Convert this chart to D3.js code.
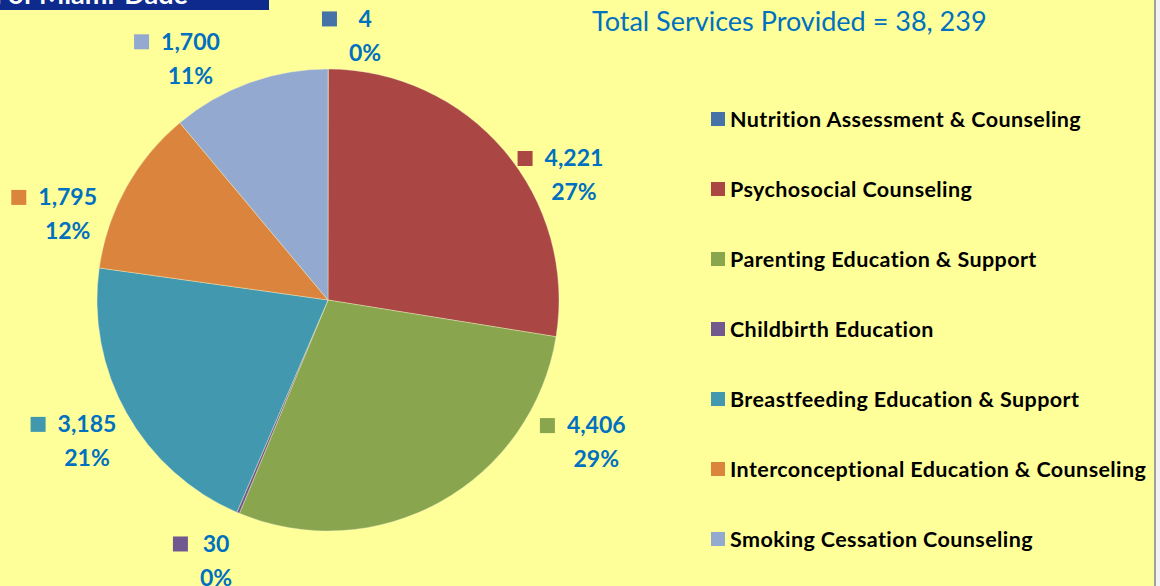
<!DOCTYPE html>
<html>
<head>
<meta charset="utf-8">
<script src="https://cdn.jsdelivr.net/npm/d3@7"></script>
<style>
  body { margin: 0; background: #f2f2f2; }
  svg { display: block; }
</style>
</head>
<body>
<div id="chart"></div>
<script>
// chart data
var categories = [
  "Nutrition Assessment & Counseling",
  "Psychosocial Counseling",
  "Parenting Education & Support",
  "Childbirth Education",
  "Breastfeeding Education & Support",
  "Interconceptional Education & Counseling",
  "Smoking Cessation Counseling"
];
var values = [4, 4221, 4406, 30, 3185, 1795, 1700];
var percentLabels = ["0%", "27%", "29%", "0%", "21%", "12%", "11%"];
var colors = ["#4572A7", "#AA4643", "#89A54E", "#71588F", "#4198AF", "#DB843D", "#93A9CF"];
var titleText = "Total Services Provided = 38, 239";
var bannerText = "Healthy Start Coalition of Miami-Dade";

// label placement around the pie (angle in degrees from top, distance from center)
var labelLayout = [[7.5, 284], [60, 284], [115, 296], [204.7, 268], [242.8, 271], [291.6, 280], [332, 293]];

var width = 1160, height = 586;
var cx = 328, cy = 300, radius = 231;
var labelBlue = "#0070C0";

var svg = d3.select("#chart").append("svg")
  .attr("width", width)
  .attr("height", height);

// background panel
svg.append("rect")
  .attr("x", 0).attr("y", 0)
  .attr("width", 1154).attr("height", height)
  .attr("fill", "#FFFF99");
svg.append("line")
  .attr("x1", 1155).attr("x2", 1155)
  .attr("y1", 0).attr("y2", height)
  .attr("stroke", "#a0a0a0").attr("stroke-width", 2);

// cut-off banner at top left
svg.append("rect")
  .attr("x", 0).attr("y", 0)
  .attr("width", 269).attr("height", 10)
  .attr("fill", "#0E2A8C");
svg.append("text")
  .attr("x", 188).attr("y", 4)
  .attr("text-anchor", "end")
  .attr("font-family", "Lato, sans-serif")
  .attr("font-weight", "bold")
  .attr("font-size", 27)
  .attr("fill", "#ffffff")
  .text(bannerText);

// title
svg.append("text")
  .attr("x", 592).attr("y", 31)
  .attr("font-family", "Lato, sans-serif")
  .attr("font-size", 27)
  .attr("fill", labelBlue)
  .text(titleText);

var data = categories.map(function(c, i) {
  return { name: c, value: values[i], color: colors[i], pct: percentLabels[i] };
});

var pie = d3.pie().sort(null).value(function(d) { return d.value; });
var arc = d3.arc().innerRadius(0).outerRadius(radius);
var arcs = pie(data);

var g = svg.append("g").attr("transform", "translate(" + cx + "," + cy + ")");

g.selectAll(".slice")
  .data(arcs)
  .enter().append("path")
  .attr("class", "slice")
  .attr("d", arc)
  .attr("fill", function(d) { return d.data.color; })
  .attr("stroke", "#f2f2d0")
  .attr("stroke-width", 0.4);

// data labels
var fmt = d3.format(",");
var labels = g.selectAll(".label")
  .data(arcs)
  .enter().append("g")
  .attr("class", "label")
  .attr("transform", function(d, i) {
    var a = labelLayout[i][0] * Math.PI / 180, r = labelLayout[i][1];
    return "translate(" + (Math.sin(a) * r) + "," + (-Math.cos(a) * r) + ")";
  });

labels.each(function(d) {
  var lg = d3.select(this);
  var vt = lg.append("text")
    .attr("text-anchor", "middle")
    .attr("dy", "0.36em")
    .attr("font-family", "Lato, sans-serif")
    .attr("font-weight", "bold")
    .attr("font-size", 23)
    .attr("fill", labelBlue)
    .text(fmt(d.data.value));
  var pt = lg.append("text")
    .attr("text-anchor", "middle")
    .attr("y", 34)
    .attr("dy", "0.36em")
    .attr("font-family", "Lato, sans-serif")
    .attr("font-weight", "bold")
    .attr("font-size", 23)
    .attr("fill", labelBlue)
    .text(d.data.pct);
  // marker sits left of the wider of the two lines
  var w = Math.max(vt.node().getComputedTextLength(), pt.node().getComputedTextLength());
  lg.append("rect")
    .attr("x", -w / 2 - 12 - 15)
    .attr("y", -7)
    .attr("width", 15).attr("height", 15)
    .attr("fill", d.data.color);
});

// legend
var legendY = d3.scalePoint().domain(categories).range([119, 539]);
var legend = svg.selectAll(".legend")
  .data(data)
  .enter().append("g")
  .attr("class", "legend")
  .attr("transform", function(d) { return "translate(711," + legendY(d.name) + ")"; });

legend.append("rect")
  .attr("x", 0).attr("y", -7)
  .attr("width", 14).attr("height", 14)
  .attr("fill", function(d) { return d.color; });

legend.append("text")
  .attr("x", 19)
  .attr("dy", "0.36em")
  .attr("font-family", "Lato, sans-serif")
  .attr("font-weight", "bold")
  .attr("font-size", 21.5)
  .attr("letter-spacing", 0.4)
  .attr("fill", "#000")
  .text(function(d) { return d.name; });
</script>
</body>
</html>
